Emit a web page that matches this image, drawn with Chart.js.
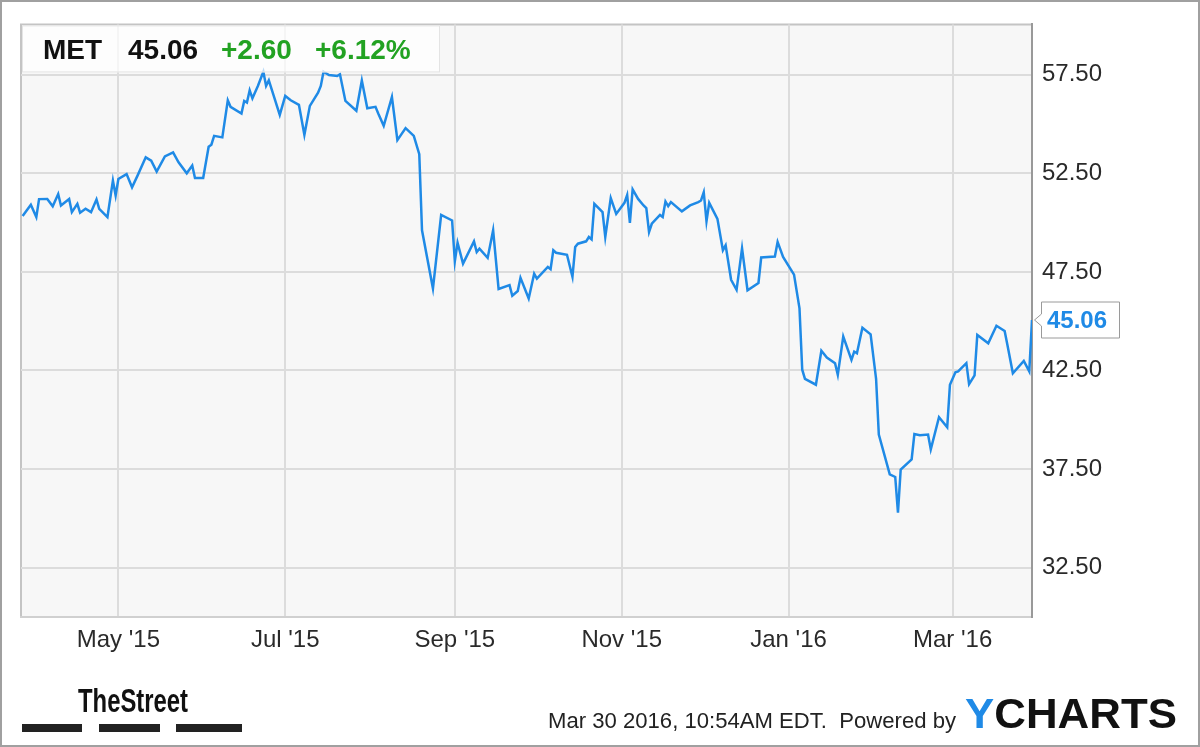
<!DOCTYPE html>
<html>
<head>
<meta charset="utf-8">
<script src="https://cdn.jsdelivr.net/npm/chart.js@4.4.1/dist/chart.umd.min.js"></script>
<style>
  html, body { margin: 0; padding: 0; background: #fff; }
  #wrap { width: 1200px; height: 747px; }
</style>
</head>
<body>
<div id="wrap"><canvas id="metChart" width="1200" height="747"></canvas></div>
<script>
// MET daily close
var dates = [
  '2015-03-27','2015-03-30','2015-04-01','2015-04-02','2015-04-05','2015-04-07','2015-04-09','2015-04-10',
  '2015-04-13','2015-04-14','2015-04-16','2015-04-17','2015-04-19','2015-04-21','2015-04-23','2015-04-24',
  '2015-04-27','2015-04-29','2015-04-30','2015-05-01','2015-05-04','2015-05-06','2015-05-08','2015-05-11',
  '2015-05-13','2015-05-15','2015-05-18','2015-05-21','2015-05-23','2015-05-26','2015-05-28','2015-05-29',
  '2015-06-01','2015-06-03','2015-06-04','2015-06-05','2015-06-08','2015-06-10','2015-06-11','2015-06-15',
  '2015-06-16','2015-06-17','2015-06-18','2015-06-19','2015-06-21','2015-06-23','2015-06-24','2015-06-25',
  '2015-06-27','2015-06-29','2015-07-01','2015-07-03','2015-07-06','2015-07-08','2015-07-10','2015-07-13',
  '2015-07-14','2015-07-15','2015-07-17','2015-07-20','2015-07-21','2015-07-23','2015-07-27','2015-07-29',
  '2015-07-31','2015-08-03','2015-08-04','2015-08-06','2015-08-09','2015-08-11','2015-08-14','2015-08-17',
  '2015-08-19','2015-08-20','2015-08-24','2015-08-27','2015-08-31','2015-09-01','2015-09-02','2015-09-04',
  '2015-09-08','2015-09-09','2015-09-10','2015-09-13','2015-09-15','2015-09-17','2015-09-21','2015-09-22',
  '2015-09-24','2015-09-25','2015-09-28','2015-09-30','2015-10-01','2015-10-05','2015-10-06','2015-10-07',
  '2015-10-08','2015-10-12','2015-10-14','2015-10-15','2015-10-16','2015-10-19','2015-10-20','2015-10-21',
  '2015-10-22','2015-10-25','2015-10-26','2015-10-28','2015-10-30','2015-11-02','2015-11-03','2015-11-04',
  '2015-11-05','2015-11-07','2015-11-09','2015-11-10','2015-11-11','2015-11-12','2015-11-15','2015-11-16',
  '2015-11-17','2015-11-18','2015-11-19','2015-11-23','2015-11-26','2015-11-29','2015-11-30','2015-12-01',
  '2015-12-02','2015-12-03','2015-12-06','2015-12-08','2015-12-09','2015-12-11','2015-12-13','2015-12-15',
  '2015-12-17','2015-12-21','2015-12-22','2015-12-27','2015-12-28','2015-12-30','2016-01-03','2016-01-05',
  '2016-01-06','2016-01-07','2016-01-11','2016-01-13','2016-01-15','2016-01-18','2016-01-19','2016-01-21',
  '2016-01-24','2016-01-25','2016-01-26','2016-01-28','2016-01-31','2016-02-02','2016-02-03','2016-02-07',
  '2016-02-09','2016-02-10','2016-02-11','2016-02-15','2016-02-16','2016-02-18','2016-02-21','2016-02-22',
  '2016-02-25','2016-02-28','2016-02-29','2016-03-02','2016-03-03','2016-03-06','2016-03-07','2016-03-09',
  '2016-03-10','2016-03-14','2016-03-17','2016-03-20','2016-03-21','2016-03-23','2016-03-27','2016-03-29',
  '2016-03-30'
];
var prices = [
  50.33,50.90,50.28,51.19,51.20,50.83,51.45,50.87,
  51.20,50.53,50.95,50.50,50.70,50.53,51.17,50.70,
  50.28,52.13,51.37,52.21,52.46,51.79,52.38,53.31,
  53.14,52.59,53.36,53.56,53.06,52.50,52.89,52.26,
  52.26,53.85,53.95,54.40,54.32,56.20,55.87,55.53,
  56.17,56.09,56.71,56.30,56.93,57.65,56.93,57.21,
  56.34,55.46,56.42,56.20,55.97,54.45,55.92,56.59,
  56.93,57.65,57.48,57.43,57.52,56.17,55.67,57.21,
  55.80,55.87,55.53,54.91,56.37,54.18,54.79,54.40,
  53.47,49.61,46.66,50.39,50.11,48.04,48.98,47.92,
  49.05,48.51,48.68,48.21,49.61,46.63,46.83,46.29,
  46.53,47.20,46.15,47.41,47.16,47.75,47.64,48.60,
  48.47,48.37,47.25,48.76,48.93,49.05,49.27,49.15,
  50.95,50.53,49.27,51.24,50.44,51.00,51.40,49.99,
  51.68,51.20,50.87,50.73,49.52,49.94,50.39,50.28,
  51.07,50.83,51.04,50.57,50.87,51.04,51.12,51.54,
  50.06,51.00,50.19,48.60,48.85,47.10,46.59,48.69,
  46.57,46.94,48.23,48.28,49.02,48.26,47.36,45.65,
  42.54,42.08,41.78,43.50,43.16,42.87,42.28,44.22,
  43.04,43.46,43.37,44.67,44.33,42.08,39.25,37.23,
  37.10,35.29,37.48,37.99,39.28,39.22,39.25,38.50,
  40.13,39.62,41.78,42.41,42.45,42.87,41.81,42.25,
  44.30,43.88,44.77,44.50,43.80,42.36,42.99,42.46,
  45.06
];
var xTickDates = ['2015-05-01','2015-07-01','2015-09-01','2015-11-01','2016-01-01','2016-03-01'];
var xTickLabels = ["May '15","Jul '15","Sep '15","Nov '15","Jan '16","Mar '16"];
var yTicks = [32.5, 37.5, 42.5, 47.5, 52.5, 57.5];

var ticker = 'MET';
var lastPrice = '45.06';
var change = '+2.60';
var changePct = '+6.12%';
var stamp = 'Mar 30 2016, 10:54AM EDT.  Powered by';

var FONT = '"Liberation Sans", Arial, sans-serif';
var LINE_BLUE = '#1f8ae6';

function dayNum(s) {
  return (Date.parse(s) - Date.parse('2015-01-01')) / 86400000;
}

var points = dates.map(function (d, i) { return { x: dayNum(d), y: prices[i] }; });

var backdrop = {
  id: 'backdrop',
  beforeDraw: function (chart) {
    var c = chart.ctx, a = chart.chartArea;
    c.save();
    c.fillStyle = '#fff';
    c.fillRect(0, 0, chart.width, chart.height);
    c.fillStyle = '#f7f7f7';
    c.fillRect(a.left, a.top, a.right - a.left, a.bottom - a.top);
    c.strokeStyle = '#c4c4c4';
    c.lineWidth = 2;
    c.beginPath();
    c.moveTo(a.left, a.bottom);
    c.lineTo(a.left, a.top);
    c.lineTo(a.right, a.top);
    c.stroke();
    c.restore();
  }
};

// fits text into a given width by squeezing it horizontally
function squeezeText(c, txt, x, y, w) {
  var m = c.measureText(txt).width;
  c.save();
  c.translate(x, y);
  c.scale(w / m, 1);
  c.fillText(txt, 0, 0);
  c.restore();
}

var overlay = {
  id: 'overlay',
  afterDraw: function (chart) {
    var c = chart.ctx, a = chart.chartArea;
    var ys = chart.scales.y;
    c.save();

    // header box with quote
    c.fillStyle = 'rgba(255,255,255,0.7)';
    c.fillRect(a.left + 1, a.top + 1, 418, 47);
    c.strokeStyle = '#e4e4e4';
    c.lineWidth = 1;
    c.strokeRect(a.left + 1.5, a.top + 1.5, 417, 46);
    c.textBaseline = 'alphabetic';
    c.textAlign = 'left';
    c.font = 'bold 28px ' + FONT;
    c.fillStyle = '#111';
    c.fillText(ticker, 43, 59);
    c.fillText(lastPrice, 128, 59);
    c.fillStyle = '#22a222';
    c.fillText(change, 221, 59);
    c.fillText(changePct, 315, 59);

    // last price tag
    var py = ys.getPixelForValue(parseFloat(lastPrice));
    c.beginPath();
    c.moveTo(1034.5, py);
    c.lineTo(1041.5, py - 6);
    c.lineTo(1041.5, py - 18);
    c.lineTo(1119.5, py - 18);
    c.lineTo(1119.5, py + 18);
    c.lineTo(1041.5, py + 18);
    c.lineTo(1041.5, py + 6);
    c.closePath();
    c.fillStyle = '#fff';
    c.fill();
    c.strokeStyle = '#9a9a9a';
    c.lineWidth = 1;
    c.stroke();
    c.font = 'bold 24px ' + FONT;
    c.fillStyle = LINE_BLUE;
    c.textBaseline = 'middle';
    c.fillText(lastPrice, 1047, py + 1);

    // footer: TheStreet mark
    c.textBaseline = 'alphabetic';
    c.fillStyle = '#111';
    c.font = 'bold 34px "Liberation Sans Narrow", ' + FONT;
    squeezeText(c, 'TheStreet', 78, 712, 110);
    c.fillStyle = '#222';
    c.fillRect(22, 724, 60, 8);
    c.fillRect(99, 724, 61, 8);
    c.fillRect(176, 724, 66, 8);

    // footer: timestamp + YCHARTS
    c.fillStyle = '#222';
    c.font = '22px ' + FONT;
    squeezeText(c, stamp, 548, 728, 408);
    c.font = 'bold 43px ' + FONT;
    var yw = c.measureText('Y').width;
    var rest = c.measureText('CHARTS').width;
    var sx = 212 / (yw + rest);
    c.save();
    c.translate(965, 728);
    c.scale(sx, 1);
    c.fillStyle = LINE_BLUE;
    c.fillText('Y', 0, 0);
    c.fillStyle = '#111';
    c.fillText('CHARTS', yw, 0);
    c.restore();

    // outer frame
    c.strokeStyle = '#a0a0a0';
    c.lineWidth = 2;
    c.strokeRect(1, 1, chart.width - 2, chart.height - 2);
    c.restore();
  }
};

var metChart = new Chart(document.getElementById('metChart'), {
  type: 'line',
  data: {
    datasets: [{
      data: points,
      borderColor: LINE_BLUE,
      borderWidth: 2.5,
      pointRadius: 0,
      tension: 0,
      fill: false
    }]
  },
  options: {
    responsive: false,
    animation: false,
    devicePixelRatio: 1,
    layout: { padding: { left: 21, top: 22, right: 0, bottom: 0 } },
    plugins: { legend: { display: false }, tooltip: { enabled: false } },
    scales: {
      x: {
        type: 'linear',
        min: dayNum(dates[0]) - 0.6,
        max: dayNum(dates[dates.length - 1]),
        afterBuildTicks: function (s) {
          s.ticks = xTickDates.map(function (d) { return { value: dayNum(d) }; });
        },
        afterFit: function (s) { s.height = 130; },
        ticks: {
          autoSkip: false,
          maxRotation: 0,
          padding: 9,
          color: '#2a2a2a',
          font: { size: 24, family: FONT },
          callback: function (v, i) { return xTickLabels[i]; }
        },
        grid: { color: '#dcdcdc', lineWidth: 2, drawTicks: false },
        border: { color: '#d0d0d0', width: 2 }
      },
      y: {
        position: 'right',
        min: 30,
        max: 60.05,
        afterBuildTicks: function (s) {
          s.ticks = yTicks.map(function (v) { return { value: v }; });
        },
        afterFit: function (s) { s.width = 168; },
        ticks: {
          padding: 10,
          color: '#2a2a2a',
          font: { size: 24, family: FONT },
          callback: function (v) { return v.toFixed(2); }
        },
        grid: { color: '#dcdcdc', lineWidth: 2, drawTicks: false },
        border: { color: '#999', width: 2 }
      }
    }
  },
  plugins: [backdrop, overlay]
});
</script>
</body>
</html>
